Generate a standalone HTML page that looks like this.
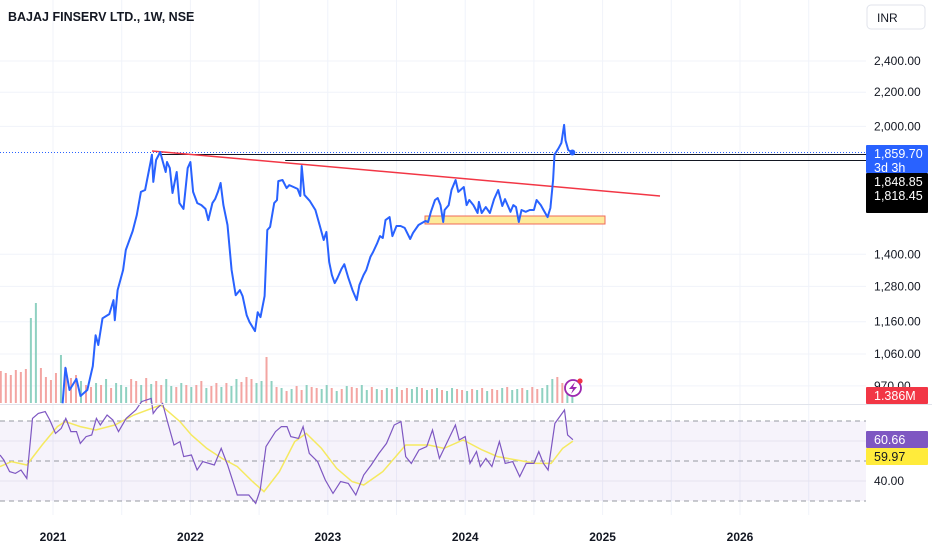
<!DOCTYPE html>
<html><head><meta charset="utf-8"><style>
html,body{margin:0;padding:0;background:#fff;}
body{width:932px;height:550px;overflow:hidden;font-family:"Liberation Sans",sans-serif;}
svg text{font-family:"Liberation Sans",sans-serif;}
</style></head><body>
<svg id="chart" width="932" height="550" xmlns="http://www.w3.org/2000/svg">
<g id="grid"></g>
<g id="vol"></g>
<g id="rsi"></g>
<g id="main"></g>
<g id="axis"></g>
<text x="8" y="21" font-size="12.5" font-weight="bold" fill="#131722">BAJAJ FINSERV LTD., 1W, NSE</text>
</svg>
<script>
const priceTicks=[2400,2200,2000,1400,1280,1160,1060,970];
const yearTicks=[2021,2022,2023,2024,2025,2026];
const priceDates=[2021.07,2021.09,2021.12,2021.17,2021.20,2021.25,2021.29,2021.31,2021.33,2021.36,2021.41,2021.44,2021.45,2021.47,2021.51,2021.53,2021.58,2021.61,2021.64,2021.67,2021.71,2021.72,2021.73,2021.75,2021.78,2021.80,2021.82,2021.83,2021.85,2021.87,2021.90,2021.92,2021.95,2021.98,2022.00,2022.02,2022.05,2022.08,2022.11,2022.13,2022.16,2022.18,2022.20,2022.22,2022.24,2022.27,2022.30,2022.33,2022.36,2022.38,2022.41,2022.43,2022.47,2022.49,2022.51,2022.54,2022.56,2022.58,2022.61,2022.63,2022.64,2022.67,2022.70,2022.72,2022.75,2022.78,2022.80,2022.81,2022.83,2022.87,2022.91,2022.94,2022.97,2022.99,2023.01,2023.03,2023.05,2023.07,2023.10,2023.12,2023.15,2023.18,2023.21,2023.23,2023.26,2023.28,2023.31,2023.33,2023.36,2023.38,2023.40,2023.42,2023.45,2023.47,2023.50,2023.53,2023.56,2023.60,2023.62,2023.66,2023.71,2023.73,2023.75,2023.78,2023.80,2023.82,2023.84,2023.85,2023.88,2023.90,2023.93,2023.95,2023.99,2024.01,2024.03,2024.06,2024.09,2024.10,2024.12,2024.15,2024.18,2024.21,2024.24,2024.27,2024.29,2024.33,2024.35,2024.37,2024.39,2024.41,2024.44,2024.47,2024.50,2024.52,2024.55,2024.57,2024.60,2024.62,2024.64,2024.65,2024.68,2024.70,2024.72,2024.73,2024.75,2024.78];
const priceValues=[924,1020,959,989,943,959,1025,1117,1087,1171,1185,1232,1165,1267,1340,1417,1494,1562,1666,1675,1811,1848,1713,1821,1862,1811,1761,1811,1781,1661,1761,1615,1589,1781,1811,1666,1615,1606,1589,1540,1615,1633,1666,1708,1606,1519,1340,1249,1267,1246,1181,1159,1130,1191,1175,1246,1498,1511,1615,1629,1717,1722,1684,1698,1689,1680,1647,1791,1652,1624,1584,1519,1457,1490,1370,1321,1292,1310,1344,1362,1310,1267,1232,1285,1321,1340,1390,1409,1445,1473,1465,1540,1553,1473,1515,1515,1507,1461,1486,1519,1536,1532,1576,1629,1638,1606,1532,1584,1606,1675,1722,1666,1689,1606,1629,1606,1571,1620,1571,1597,1571,1633,1675,1602,1633,1576,1606,1597,1532,1584,1576,1584,1584,1629,1606,1584,1553,1593,1722,1848,1882,1910,2008,1924,1872,1859.7];
const rsiDates=[2020.614,2020.642,2020.684,2020.726,2020.767,2020.809,2020.851,2020.893,2020.943,2020.977,2021.018,2021.060,2021.093,2021.130,2021.171,2021.199,2021.241,2021.282,2021.316,2021.344,2021.394,2021.436,2021.477,2021.533,2021.603,2021.645,2021.715,2021.729,2021.756,2021.798,2021.840,2021.881,2021.924,2021.951,2022.007,2022.049,2022.090,2022.174,2022.224,2022.271,2022.341,2022.425,2022.475,2022.508,2022.550,2022.619,2022.662,2022.703,2022.731,2022.787,2022.820,2022.865,2022.926,2022.982,2023.038,2023.093,2023.149,2023.204,2023.261,2023.316,2023.372,2023.427,2023.483,2023.533,2023.567,2023.608,2023.664,2023.720,2023.762,2023.812,2023.859,2023.929,2023.956,2024.000,2024.035,2024.082,2024.110,2024.151,2024.194,2024.249,2024.291,2024.346,2024.397,2024.444,2024.500,2024.536,2024.569,2024.603,2024.653,2024.723,2024.745,2024.784];
const rsiValues=[53,50.5,44.7,43.8,45.5,41.3,71.3,73.8,74.7,70.5,63.8,66.3,71.3,64.7,64.7,58.8,62.2,63,71.3,68,73,70.5,64.7,71.3,75.5,79.7,81.3,73.8,76.3,78.8,68,58,59.7,52.2,53,45.5,49.7,48,56.3,48,33,33,28.8,35.5,57.2,64.7,67.2,67.2,62.2,61.3,67.2,53.8,49.7,40.5,33.8,39.7,38.8,33,43,48,53.8,58.8,68,69.7,52.2,48.8,55.5,57.2,65.5,51.3,58,68,60.5,62.2,48.8,54.7,47.2,51.3,47.2,59.7,48.8,49.7,42.2,48.8,48.8,54.7,48.8,45.5,68.8,75.5,63,60.66];
const maDates=[2020.614,2020.698,2020.809,2020.921,2021.032,2021.088,2021.199,2021.311,2021.450,2021.589,2021.784,2021.924,2022.007,2022.119,2022.230,2022.341,2022.453,2022.536,2022.648,2022.759,2022.843,2022.954,2023.065,2023.177,2023.261,2023.400,2023.567,2023.734,2023.845,2023.985,2024.124,2024.235,2024.374,2024.514,2024.625,2024.709,2024.784];
const maValues=[47.2,49.7,48,58,67.2,69.7,67.2,65.5,68,73,78,69.7,63,56.3,51.3,47.2,39.7,34.7,44.7,59.7,63.8,56.3,46.3,39.7,38,44.7,58,58,56.3,60.5,55.5,52.2,50.5,48.8,48.8,56.3,59.97];
const volValues=[3.2,3.0,2.8,3.3,3.1,3.4,8.5,10,3.5,2.6,2.3,3.0,4.8,3.5,2.5,2.8,2.2,1.8,1.6,2.0,1.8,2.4,1.5,2.0,1.8,1.6,2.4,2.2,1.8,2.5,1.9,2.2,1.8,2.4,1.7,1.6,2.0,1.8,1.6,1.8,2.2,1.5,1.7,2.0,1.6,2.0,1.7,2.4,2.1,2.6,2.4,2.0,2.2,4.6,2.2,1.6,1.5,1.2,1.4,1.7,1.3,1.8,1.6,1.5,1.4,1.8,1.5,1.2,1.4,1.7,1.6,1.5,1.8,1.3,1.6,1.4,1.3,1.5,1.4,1.6,1.3,1.5,1.4,1.6,1.5,1.3,1.4,1.5,1.3,1.2,1.5,1.4,1.3,1.2,1.4,1.3,1.5,1.2,1.4,1.3,1.5,1.6,1.3,1.4,1.5,1.3,1.6,1.4,1.5,1.8,2.4,2.6,2.0,1.6,1.386];
const volDir="rrrrrrggrrrrgrrrgrrgrgrgggrrgrgrrggrgrgrrgrrgrggrrrggrgrgrgrrgrrggrgrgrrggrgrgrgrrggrgrgrggrrgrgrgrrgrggrgrrgggrrgggg";
const volStart=2020.62, volEnd=2024.78;

const NS="http://www.w3.org/2000/svg";
function el(tag,attrs,parent,txt){const e=document.createElementNS(NS,tag);for(const k in attrs)e.setAttribute(k,attrs[k]);if(txt!==undefined)e.textContent=txt;parent.appendChild(e);return e;}
const X=yr=>53+(yr-2021)*137.4;
const Y=p=>61+(Math.log(2400)-Math.log(p))*358.6;
const RY=v=>421+(70-v)*2;
const VY=v=>403-v*10;
const grid=document.getElementById('grid'),vol=document.getElementById('vol'),rsi=document.getElementById('rsi'),main=document.getElementById('main'),axis=document.getElementById('axis');

// grid
yearTicks.forEach(t=>{for(const o of [0,0.5]){const x=X(t+o);if(x<866){const l=el('line',{x1:x,x2:x,y1:0,y2:515,stroke:'#f0f3fa','stroke-width':1},grid);

}}});
priceTicks.forEach(p=>{const l=el('line',{x1:0,x2:866,y1:Y(p),y2:Y(p),stroke:'#f0f3fa'},grid);

});

// volume
volValues.forEach((v,i)=>{const yr=volStart+i*(volEnd-volStart)/(volValues.length-1);const x=X(yr);
const r=el('rect',{x:x-1,y:VY(v),width:2,height:403-VY(v),fill:volDir[i]==='g'?'#8fd1c1':'#f3a5a2'},vol);

});

// separator
const sep=el('line',{x1:0,x2:932,y1:404.5,y2:404.5,stroke:'#e0e3eb'},main.parentNode);



// RSI pane
const band=el('rect',{x:0,y:RY(70),width:866,height:RY(30)-RY(70),fill:'#7e57c2','fill-opacity':0.07},rsi);


[70,50,30].forEach(v=>{const l=el('line',{x1:0,x2:866,y1:RY(v),y2:RY(v),stroke:'#9598a1','stroke-dasharray':'5,4'},rsi);

});
[60,40].forEach(v=>{const l=el('line',{x1:0,x2:866,y1:RY(v),y2:RY(v),stroke:'#e6e3ef'},rsi);

});
const maPts=maDates.map((d,i)=>X(d).toFixed(1)+','+RY(maValues[i]).toFixed(1)).join(' ');
const ma=el('polyline',{points:maPts,fill:'none',stroke:'#f5e960','stroke-width':1.5},rsi);


const rPts=rsiDates.map((d,i)=>X(d).toFixed(1)+','+RY(rsiValues[i]).toFixed(1)).join(' ');
const rl=el('polyline',{points:rPts,fill:'none',stroke:'#7e57c2','stroke-width':1.2},rsi);



// main pane annotations
const dot=el('line',{x1:0,x2:866,y1:Y(1859.7),y2:Y(1859.7),stroke:'#2962ff','stroke-dasharray':'1,2','stroke-width':1},main);


const h1=el('line',{x1:X(2021.78),x2:866,y1:Y(1848.85),y2:Y(1848.85),stroke:'#131722','stroke-width':1},main);


const h2=el('line',{x1:X(2022.69),x2:866,y1:Y(1818.45),y2:Y(1818.45),stroke:'#131722','stroke-width':1},main);


const zone=el('rect',{x:425,y:216,width:180,height:8,fill:'#fde88a','fill-opacity':0.85,stroke:'#f06a5a','stroke-width':1},main);


const tl=el('line',{x1:152,y1:151,x2:660,y2:196,stroke:'#f23645','stroke-width':1.5},main);


const pPts=priceDates.map((d,i)=>X(d).toFixed(1)+','+Y(priceValues[i]).toFixed(1)).join(' ');
const pl=el('polyline',{points:pPts,fill:'none',stroke:'#2962ff','stroke-width':2,'stroke-linejoin':'round'},main);


const ld=el('circle',{cx:X(priceDates[priceDates.length-1]),cy:Y(priceValues[priceValues.length-1]),r:3,fill:'#2962ff'},main);


// lightning icon
const ic=el('g',{},main);


el('circle',{cx:573,cy:388,r:8,fill:'#fff',stroke:'#9c27b0','stroke-width':1.8},ic);
el('path',{d:'M575 382 L569 389 L573 389 L571 394 L577 387 L573 387 Z',fill:'#9c27b0'},ic);
el('circle',{cx:580,cy:381,r:2.6,fill:'#f23645'},ic);

// time axis
yearTicks.forEach(t=>{const tx=el('text',{x:X(t),y:541,'font-size':12,'font-weight':'bold','text-anchor':'middle',fill:'#131722'},axis,String(t));

});

// price axis
const inr=el('rect',{x:867,y:5,width:58,height:24,rx:4,fill:'#fff',stroke:'#e0e3eb'},axis);


el('text',{x:877,y:22,'font-size':12,fill:'#131722'},axis,'INR');
priceTicks.forEach(p=>{const tx=el('text',{x:874,y:Y(p)+4,'font-size':12,fill:'#131722'},axis,p.toLocaleString('en-US',{minimumFractionDigits:2}));

});
const rt=el('text',{x:874,y:RY(40)+4,'font-size':12,fill:'#131722'},axis,'40.00');


function badge(name,y,h,bg,lines,col){const g=el('g',{},axis);


el('rect',{x:866,y:y,width:62,height:h,fill:bg,rx:1},g);
lines.forEach((s,i)=>el('text',{x:874,y:y+13+i*14,'font-size':12.5,fill:col},g,s));}
badge('last-price-badge',145,28,'#2962ff',['1,859.70','3d 3h'],'#fff');
badge('line-price-badge',173,40,'#000',['1,848.85','1,818.45'],'#fff');
badge('volume-badge',387,17,'#f23645',['1.386M'],'#fff');
badge('rsi-value-badge',431,17,'#7e57c2',['60.66'],'#fff');
badge('rsi-ma-badge',448,17,'#ffeb3b',['59.97'],'#131722');
</script>
</body></html>
